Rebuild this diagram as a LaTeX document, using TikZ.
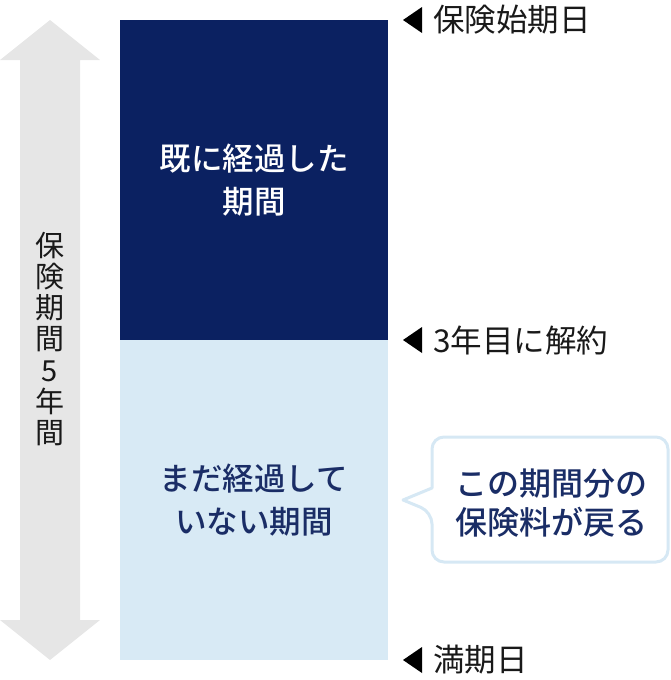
\documentclass[tikz,border=0pt]{standalone}
\usepackage{fontspec}
\newfontfamily\jpfont[BoldFont={Noto Sans CJK JP Medium}]{Noto Sans CJK JP}
\definecolor{pastnavy}{HTML}{0B2161}
\definecolor{restblue}{HTML}{D8EAF5}
\definecolor{textnavy}{HTML}{1A2D66}
\definecolor{spangray}{HTML}{E6E6E6}
\definecolor{bubbleline}{HTML}{D6E8F4}
\tikzset{
  periodbox/.style={minimum width=268pt, minimum height=320pt, inner sep=0pt,
    align=center, font=\jpfont\bfseries\fontsize{31.5}{43.5}\selectfont},
  datelab/.style={anchor=west, inner sep=0pt, text=black!90,
    font=\jpfont\fontsize{31.5}{34}\selectfont},
  spanlab/.style={align=center, inner sep=0pt, text=black!90,
    font=\jpfont\fontsize{29}{31.3}\selectfont},
  bubtext/.style={align=center, inner sep=0pt, text=textnavy,
    font=\jpfont\bfseries\fontsize{32}{39.5}\selectfont},
  bubble/.style={draw=bubbleline, line width=3pt, fill=white, line join=round},
}
\begin{document}
\begin{tikzpicture}[x=1pt, y=-1pt]
  \useasboundingbox (0,0) rectangle (670,680);
  % whole insurance span
  \fill[spangray] (50,20) -- (100,60) -- (80,60) -- (80,620) -- (100,620)
    -- (50,660) -- (0,620) -- (20,620) -- (20,60) -- (0,60) -- cycle;
  \node[spanlab] (span) at (50,339) {保\\険\\期\\間\\5\\年\\間};
  % the two periods
  \node[periodbox, fill=pastnavy, text=white] (past) at (254,180) {既に経過した\\期間};
  \node[periodbox, fill=restblue, text=textnavy] (rest) at (254,500) {まだ経過して\\いない期間};
  % dates
  \node[datelab] (start) at (433,20) {保険始期日};
  \node[datelab] (cancel) at (433,340) {3年目に解約};
  \node[datelab] (end) at (433,660) {満期日};
  \foreach \d in {start,cancel,end}
    \fill ([xshift=-11pt]\d.west) -- ++(0,-13) -- ++(-19,13) -- ++(19,13) -- cycle;
  % refund callout
  \draw[bubble] (403,500) -- (432,488) [rounded corners=12pt] -- (432,437) -- (668,437)
    -- (668,562) -- (432,562) -- (432,512) [sharp corners] -- cycle;
  \node[bubtext] (refund) at (551,503) {この期間分の\\保険料が戻る};
\end{tikzpicture}
\end{document}
